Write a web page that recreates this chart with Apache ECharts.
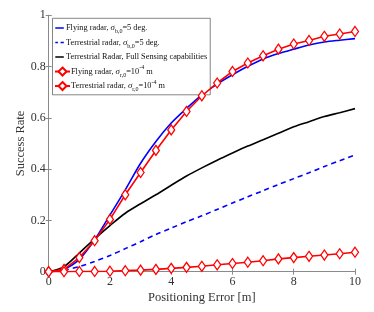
<!DOCTYPE html>
<html><head><meta charset="utf-8">
<script src="https://cdn.jsdelivr.net/npm/echarts@6/dist/echarts.min.js"></script>
<style>html,body{margin:0;padding:0;background:#fff}#c{width:374px;height:312px}</style>
</head><body><div id="c"></div>
<script>
const xs = [0,0.5,1,1.5,2,2.5,3,3.5,4,4.5,5,5.5,6,6.5,7,7.5,8,8.5,9,9.5,10];
const flyAngle = [0,0.01,0.048,0.124,0.221,0.319,0.423,0.508,0.58,0.637,0.69,0.732,0.768,0.801,0.83,0.851,0.868,0.884,0.896,0.903,0.909];
const terrAngle = [null,0.005,0.02,0.04,0.063,0.09,0.117,0.145,0.17,0.195,0.218,0.243,0.268,0.292,0.316,0.34,0.363,0.386,0.41,0.433,0.455];
const terrFull = [0,0.02,0.073,0.128,0.18,0.228,0.265,0.3,0.337,0.373,0.405,0.435,0.463,0.49,0.515,0.54,0.565,0.585,0.605,0.62,0.636];
const flyRange = [0,0.009,0.055,0.121,0.204,0.3,0.387,0.473,0.553,0.625,0.686,0.736,0.781,0.814,0.842,0.868,0.888,0.902,0.918,0.927,0.937];
const terrRange = [0,0,0.001,0.001,0.002,0.004,0.006,0.009,0.013,0.017,0.021,0.027,0.032,0.037,0.043,0.05,0.055,0.06,0.065,0.07,0.076];
const xTicks = [0,2,4,6,8,10];
const yTicks = [0,0.2,0.4,0.6,0.8,1];

const names = ['Flying radar angle','Terrestrial radar angle','Terrestrial full','Flying radar range','Terrestrial radar range'];
const legendRich = {
  'Flying radar angle': 'Flying radar, {i|σ}{sub|b,0}=5 deg.',
  'Terrestrial radar angle': 'Terrestrial radar, {i|σ}{sub|b,0}=5 deg.',
  'Terrestrial full': 'Terrestrial Radar, Full Sensing capabilities',
  'Flying radar range': 'Flying radar, {i|σ}{sub|r,0}=10{sup|-4} m',
  'Terrestrial radar range': 'Terrestrial radar, {i|σ}{sub|r,0}=10{sup|-4} m'
};
const pair = a => xs.map((x,i)=>[x,a[i]]);
const font = 'Liberation Serif';
const axisCol = '#8a8a8a';
const corners = 'M0,0h0.01v0.01h-0.01z M15,9.99h0.01v0.01h-0.01z ';
const solidIcon = 'path://' + corners + 'M0.3,4.3h8.5v1.4h-8.5z';
const dashIcon = 'path://' + corners + 'M0.3,4.3h2.6v1.4h-2.6z M5.6,4.3h3.2v1.4h-3.2z';
const chart = echarts.init(document.getElementById('c'), null, {renderer:'canvas'});
const mkLine = (name, data, color, type, marker) => ({
  name, type:'line', data: pair(data),
  symbol: marker ? 'diamond' : 'none',
  symbolSize: [7,10], showSymbol: !!marker,
  itemStyle:{color: marker ? '#fff' : color, borderColor: color, borderWidth:1.3},
  lineStyle:{color, width:1.6, type}, smooth: marker ? false : 0.3,
  connectNulls:false, animation:false, z: marker ? 5 : 3
});
const shortText = {padding:[0,0,0,-9]};
chart.setOption({
  animation:false,
  grid:{left:48.7, right:19, top:15.3, bottom:40.3},
  xAxis:[{type:'value', min:0, max:10, interval:2, position:'bottom',
    name:'Positioning Error [m]', nameLocation:'middle', nameGap:20, nameMoveOverlap:false,
    nameTextStyle:{fontFamily:font, fontSize:12.5, color:'#333'},
    axisLine:{show:true,lineStyle:{color:axisCol,width:1}},
    axisTick:{show:true,inside:true,length:3,lineStyle:{color:axisCol}},
    axisLabel:{fontFamily:font, fontSize:12, color:'#333', margin:4},
    splitLine:{show:false}},
   {type:'value', min:0, max:10, interval:2, position:'top',
    axisLine:{show:true,lineStyle:{color:axisCol,width:1}},
    axisTick:{show:true,inside:true,length:3,lineStyle:{color:axisCol}},
    axisLabel:{show:false}, splitLine:{show:false}}],
  yAxis:[{type:'value', min:0, max:1, interval:0.2, position:'left',
    name:'Success Rate', nameLocation:'middle', nameGap:21, nameMoveOverlap:false,
    nameTextStyle:{fontFamily:font, fontSize:12.5, color:'#333'},
    axisLine:{show:true,lineStyle:{color:axisCol,width:1}},
    axisTick:{show:true,inside:true,length:3,lineStyle:{color:axisCol}},
    axisLabel:{fontFamily:font, fontSize:12, color:'#333', margin:3,
      formatter:v=>String(+v.toFixed(1))},
    splitLine:{show:false}},
   {type:'value', min:0, max:1, interval:0.2, position:'right',
    axisLine:{show:true,lineStyle:{color:axisCol,width:1}},
    axisTick:{show:true,inside:true,length:3,lineStyle:{color:axisCol}},
    axisLabel:{show:false}, splitLine:{show:false}}],
  legend:{orient:'vertical', left:52.5, top:18.3,
    data:[
      {name:names[0], icon:solidIcon, itemStyle:{color:'#0000ff', borderWidth:0}, textStyle:shortText},
      {name:names[1], icon:dashIcon, itemStyle:{color:'#0000ff', borderWidth:0}, textStyle:shortText},
      {name:names[2], icon:solidIcon, itemStyle:{color:'#000000', borderWidth:0}, textStyle:shortText},
      {name:names[3]},
      {name:names[4]}
    ],
    backgroundColor:'#fff', borderColor:'#333', borderWidth:0.6, borderRadius:0,
    padding:[3,3,2,1.5], itemGap:1, itemWidth:15, itemHeight:10,
    textStyle:{fontFamily:font, fontSize:8.3, color:'#111', padding:[0,0,0,-4], lineHeight:13.5,
      rich:{i:{fontFamily:font, fontSize:8.8, fontStyle:'italic', color:'#111'},
            sub:{fontFamily:font, fontSize:6, color:'#111', verticalAlign:'bottom', lineHeight:13.5, padding:[4,0,0,0]},
            sup:{fontFamily:font, fontSize:6, color:'#111', verticalAlign:'top', lineHeight:13.5, padding:[0,0,5,0]}}},
    formatter: n => legendRich[n]},
  series:[
    mkLine(names[0], flyAngle, '#0000ff', 'solid', false),
    mkLine(names[1], terrAngle, '#0000ff', [5,4], false),
    mkLine(names[2], terrFull, '#000000', 'solid', false),
    mkLine(names[3], flyRange, '#ff0000', 'solid', true),
    mkLine(names[4], terrRange, '#ff0000', 'solid', true)
  ]
});
</script></body></html>
